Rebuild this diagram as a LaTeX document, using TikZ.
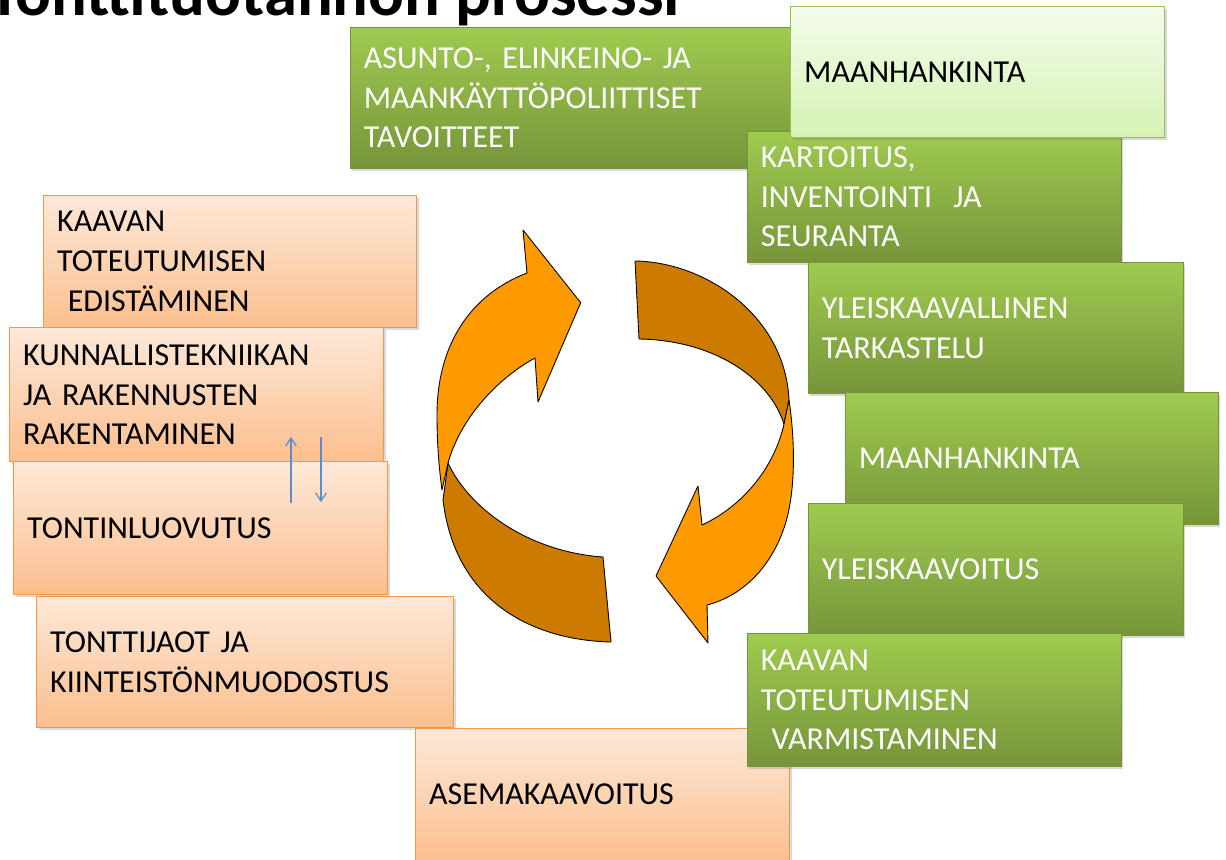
\documentclass[tikz,border=0pt]{standalone}
\usepackage{fontspec}
\setmainfont{Carlito}
\usetikzlibrary{shadows,arrows.meta}

\definecolor{leaftop}{HTML}{9FCB4F}
\definecolor{leafbot}{HTML}{76953A}
\definecolor{paletop}{HTML}{F3FBEC}
\definecolor{palebot}{HTML}{D6F3B2}
\definecolor{paleline}{HTML}{9BBB59}
\definecolor{peachtop}{HTML}{FDE8D8}
\definecolor{peachbot}{HTML}{FBBF8E}
\definecolor{peachline}{HTML}{F79646}
\definecolor{ribbonfront}{HTML}{FF9900}
\definecolor{ribbonback}{HTML}{CC7A00}
\definecolor{flowblue}{HTML}{5B8BD0}

\newcommand{\boxfont}{\fontsize{18.2}{22.7}\selectfont}
\newcommand{\titlefont}{\fontsize{38}{44}\selectfont\bfseries}

\tikzset{
  card/.style={anchor=north west, rectangle, align=left, inner xsep=0.27cm, inner ysep=0pt,
    font=\boxfont, drop shadow={opacity=0.3, shadow xshift=1.2pt, shadow yshift=-1.5pt}},
  leaf/.style={card, top color=leaftop, bottom color=leafbot, draw=leafbot, line width=0.4pt, text=white},
  pale/.style={card, top color=paletop, bottom color=palebot, draw=paleline, line width=0.8pt},
  peach/.style={card, top color=peachtop, bottom color=peachbot, draw=peachline, line width=0.8pt},
  ribbon/.style={draw=black, line width=0.5pt, line join=round},
  flow/.style={flowblue, line width=0.7pt, -{Straight Barb[length=4.5pt,width=6pt]}}
}

\begin{document}
\begin{tikzpicture}[x=0.02cm,y=-0.02cm]
      \useasboundingbox (0,0) rectangle (1226,859);
      \clip (0,0) rectangle (1226,859);

      \node[anchor=base west, font=\titlefont, inner sep=0pt] (title) at (-12,15) {Tonttituotannon prosessi};

      % cycle arrows
      \path[ribbon, fill=ribbonback] (448,463) .. controls (470,510) and (530,552) .. (603,557) -- (611,642) .. controls (530,640) and (455,600) .. (443,500) -- cycle;
      \path[ribbon, fill=ribbonfront] (527,273) .. controls (470,295) and (437,345) .. (437,415) .. controls (437,450) and (440,475) .. (442,490) -- (448,463) .. controls (460,420) and (495,380) .. (535,358) -- (538,402) -- (580.7,302.7) -- (523,230) -- cycle;
      \path[ribbon, fill=ribbonback] (635,261) .. controls (705,262) and (785,315) .. (789,400) -- (784,424) .. controls (768,375) and (710,340) .. (639,339) -- cycle;
      \path[ribbon, fill=ribbonfront] (789,400) .. controls (795,440) and (796,490) .. (785,525) .. controls (772,565) and (745,595) .. (707,605) -- (708,643) -- (656,576) -- (698,486) -- (702,525) .. controls (745,505) and (775,465) .. (784,424) -- cycle;

      % left column
      \node[peach, text width=6.92cm, minimum height=2.64cm] (edist) at (43,195) {KAAVAN\\TOTEUTUMISEN\\~EDISTÄMINEN};
      \node[peach, text width=6.94cm, minimum height=2.68cm] (kunn) at (9,327) {KUNNALLISTEKNIIKAN\\JA RAKENNUSTEN\\RAKENTAMINEN};
      \node[peach, text width=6.94cm, minimum height=2.66cm] (luov) at (13,461) {TONTINLUOVUTUS};
      \node[peach, text width=7.80cm, minimum height=2.62cm] (jaot) at (36,596) {TONTTIJAOT JA\\KIINTEISTÖNMUODOSTUS};
      \node[peach, text width=6.94cm, minimum height=2.64cm] (asema) at (415,728) {ASEMAKAAVOITUS};

      % right column
      \node[leaf, text width=8.46cm, minimum height=2.82cm] (goals) at (350,27) {ASUNTO-, ELINKEINO- JA\\MAANKÄYTTÖPOLIITTISET\\TAVOITTEET};
      \node[leaf, text width=6.94cm, minimum height=2.62cm] (survey) at (747,131) {KARTOITUS,\\INVENTOINTI~ JA\\SEURANTA};
      \node[pale, text width=6.94cm, minimum height=2.62cm] (landtop) at (790,6) {MAANHANKINTA};
      \node[leaf, text width=6.96cm, minimum height=2.62cm] (review) at (808,262) {YLEISKAAVALLINEN\\TARKASTELU};
      \node[leaf, text width=6.92cm, minimum height=2.64cm] (land) at (845,392) {MAANHANKINTA};
      \node[leaf, text width=6.96cm, minimum height=2.64cm] (master) at (808,503) {YLEISKAAVOITUS};
      \node[leaf, text width=6.94cm, minimum height=2.66cm] (secure) at (747,633) {KAAVAN\\TOTEUTUMISEN\\~VARMISTAMINEN};

      \coordinate (upfoot) at (291,503);
      \coordinate (uphead) at (291,437);
      \coordinate (downfoot) at (321,437);
      \coordinate (downhead) at (321,502);
      \draw[flow] (upfoot) -- (uphead);
      \draw[flow] (downfoot) -- (downhead);
\end{tikzpicture}
\end{document}
